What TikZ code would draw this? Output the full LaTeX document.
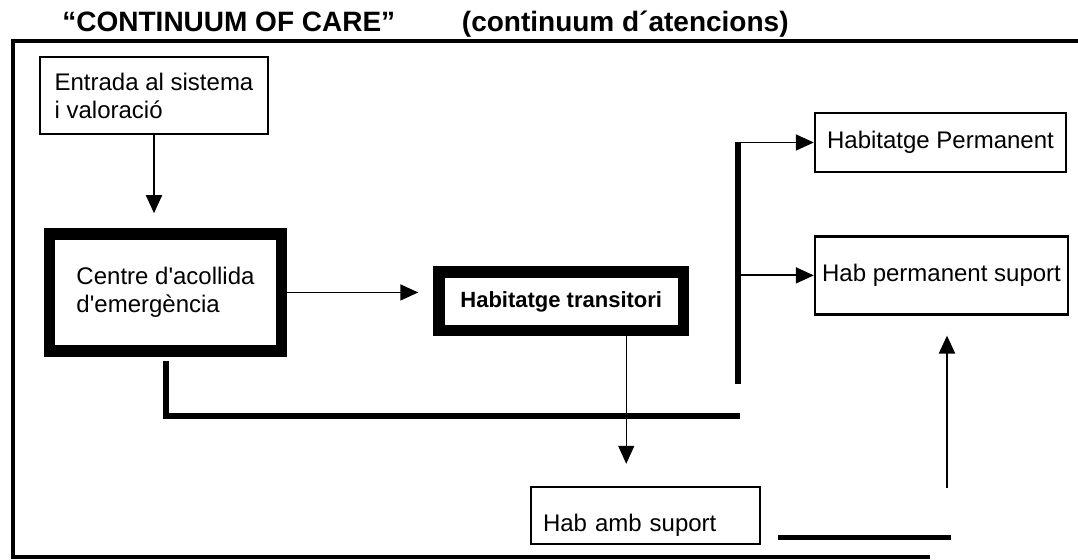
\documentclass[tikz,border=0pt]{standalone}
\usepackage{fontspec}
\setmainfont{Liberation Sans}[Ligatures=TeXOff]
\usetikzlibrary{arrows.meta, positioning}

\begin{document}
\begin{tikzpicture}[
    x=0.5pt, y=-0.5pt,
    font=\fontsize{12}{14}\selectfont,
    >={Triangle[length=9pt, width=8pt]},
    box/.style={draw, line width=1.2pt, inner sep=0pt, align=left},
    thickbox/.style={draw, line width=5.75pt, inner sep=0pt, align=left},
    arrowline/.style={->, line width=0.9pt},
    heavyline/.style={line width=3pt},
    frameline/.style={line width=2.2pt},
    titletext/.style={font=\fontsize{14}{16}\selectfont\bfseries, inner sep=0pt}
]
\useasboundingbox (0,0) rectangle (1078,560);

% ===== TITLE =====
\node[titletext, anchor=base west] (title) at (62,32) {“CONTINUUM OF CARE”};
\node[titletext, anchor=base east] (subtitle) at (789,32) {(continuum d´atencions)};

% outer frame, open on the right
\draw[frameline] (1078,41) -- (13,41) -- (13,557) -- (930,557);

% ===== LEFT COLUMN =====
% Entry box at the top
\node[box, minimum width=114pt, minimum height=38.5pt] (entrada) at (154,95.5) {Entrada al sistema\\i valoració};

% Emergency shelter below it
\node[thickbox, minimum width=116pt, minimum height=58.5pt, below=46.5pt of entrada, xshift=5.75pt] (centre) {Centre d'acollida\\d'emergència};

% ===== CENTER =====
% Transitional housing right of the shelter
\node[thickbox, minimum width=122.25pt, minimum height=29.25pt, right=73pt of centre, yshift=-4.5pt, font=\fontsize{11}{13}\selectfont\bfseries] (transitori) {Habitatge transitori};

% Supported housing at the bottom
\node[box, minimum width=114.5pt, minimum height=28.5pt, text width=102.5pt, inner xsep=6pt, text height=18.5pt, text depth=2.6pt] (ambsup) at (645.5,515.5) {Hab amb suport};

% ===== RIGHT COLUMN =====
% Permanent housing
\node[box, minimum width=125.5pt, minimum height=29.5pt] (perm) at (940.5,142.5) {Habitatge Permanent};

% Permanent supported housing
\node[box, minimum width=126.5pt, minimum height=39pt, below=31pt of perm, xshift=0.5pt] (permsup) {Hab permanent suport};

% ===== CONNECTIONS =====
% Entry down to the shelter
\draw[arrowline, shorten >=7.5pt] (entrada) -- (entrada.south |- centre.north);

% Shelter to transitional housing
\draw[arrowline, shorten >=7.5pt] (centre.east) -- (centre.east -| transitori.west);

% Transitional housing down to supported housing
\coordinate[left=31.5pt of transitori.south east] (tdrop);
\draw[arrowline, line width=0.6pt, shorten >=11pt] (tdrop) -- (tdrop |- ambsup.north);

% Heavy line out of the shelter
\coordinate (lend) at (740,416);
\draw[heavyline, shorten <=2pt] (centre.south) |- (lend);

% Trunk feeding the permanent boxes
\coordinate[left=38pt of perm.west] (trunktop);
\coordinate[below=121pt of trunktop] (trunkbot);
\draw[heavyline] (trunktop) -- (trunkbot);
\draw[arrowline] (trunktop) -- (perm.west);
\draw[arrowline] (trunktop |- permsup.west) -- (permsup.west);

% From supported housing up to permanent support
\coordinate (sidel) at (778,538);
\coordinate (sider) at (951,538);
\draw[heavyline, line width=2.5pt] (sidel) -- (sider);
\coordinate (upfoot) at (947,488);
\draw[arrowline, line width=1.2pt, shorten >=10pt] (upfoot) -- (upfoot |- permsup.south);

\end{tikzpicture}
\end{document}
